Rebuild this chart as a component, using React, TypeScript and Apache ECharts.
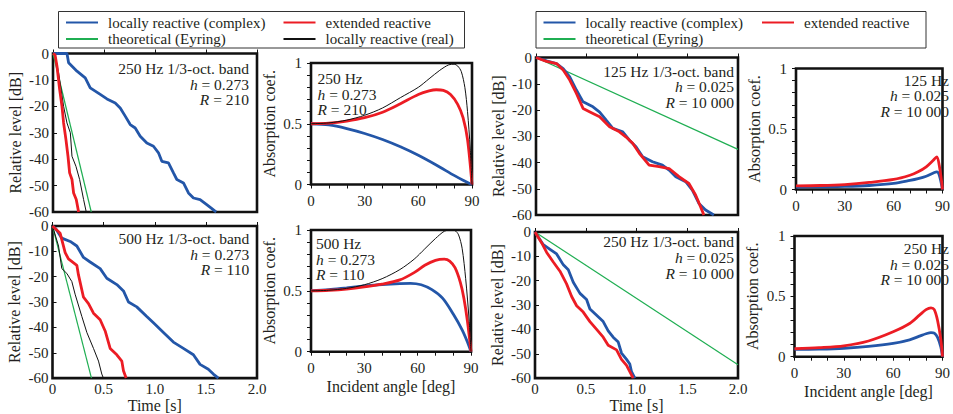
import React, { useEffect, useRef } from "react";
import * as echarts from "echarts";

// ---------------- DATA ----------------
const NAME_COMPLEX = "locally reactive (complex)";
const NAME_EXT = "extended reactive";
const NAME_EYRING = "theoretical (Eyring)";
const NAME_REAL = "locally reactive (real)";

const decayTicks = [0, 0.5, 1.0, 1.5, 2.0];
const levelTicks = [0, -10, -20, -30, -40, -50, -60];
const angleTicks = [0, 30, 60, 90];
const coefTicks = [0, 0.5, 1];

// Decay curves (time [s], level [dB]) — left half, h = 0.273
const decayL250Complex = [[0,0],[0.137,0],[0.153,-3.5],[0.235,-6.7],[0.316,-9.2],[0.365,-13],[0.463,-15.5],[0.529,-17.2],[0.61,-18.7],[0.659,-20.6],[0.708,-23.7],[0.757,-26.9],[0.806,-28.2],[0.855,-31.3],[0.92,-33.9],[0.985,-35.1],[1.034,-37.6],[1.067,-40.8],[1.132,-41.4],[1.181,-45.2],[1.214,-47.7],[1.279,-49],[1.328,-52.8],[1.377,-54.7],[1.442,-55.3],[1.507,-57.2],[1.589,-59.7],[1.6,-60]];
const decayL250Ext = [[0,0],[0.02,-0.5],[0.039,-4.8],[0.065,-13.6],[0.088,-20],[0.104,-26.3],[0.127,-32.6],[0.147,-38.9],[0.163,-45.2],[0.186,-47.7],[0.202,-52.8],[0.228,-55.3],[0.251,-60]];
const decayL250Real = [[0,0],[0.02,-0.5],[0.055,-7.3],[0.104,-20],[0.137,-26.3],[0.17,-30],[0.186,-38.9],[0.225,-42.7],[0.261,-47.7],[0.3,-55.3],[0.326,-60]];
const decayL250Eyring = [[0,0],[0.375,-60]];

const decayL500Complex = [[0,0],[0.03,-1],[0.091,-4.8],[0.173,-6.1],[0.238,-7.9],[0.303,-12.4],[0.368,-14.2],[0.466,-16.8],[0.531,-20.6],[0.629,-23.1],[0.694,-25.6],[0.743,-30],[0.824,-31.9],[0.922,-35.7],[0.987,-38.2],[1.085,-42],[1.182,-45.8],[1.28,-48.3],[1.378,-50.8],[1.443,-54.6],[1.524,-56.5],[1.573,-58.4],[1.622,-60]];
const decayL500Ext = [[0,0],[0.075,-2.9],[0.124,-10.5],[0.156,-13],[0.238,-15.5],[0.254,-19.3],[0.303,-28.1],[0.352,-30.6],[0.401,-34.4],[0.466,-37],[0.515,-41.4],[0.564,-48.3],[0.629,-50.8],[0.678,-53.3],[0.694,-57.1],[0.72,-60]];
const decayL500Real = [[0,0],[0.059,-7.9],[0.091,-16.8],[0.14,-18.7],[0.189,-21.9],[0.221,-26.9],[0.287,-35.7],[0.336,-42],[0.401,-48.3],[0.45,-53.3],[0.482,-58.4],[0.498,-60]];
const decayL500Eyring = [[0,0],[0.381,-60]];

// Decay curves — right half, h = 0.025
const decayR125Complex = [[0,0],[0.105,-1.3],[0.203,-2.3],[0.269,-4.2],[0.334,-7.4],[0.4,-12.4],[0.466,-16.9],[0.564,-18.8],[0.63,-20.8],[0.695,-23.9],[0.761,-27],[0.859,-28.3],[0.925,-31.5],[0.99,-34],[1.056,-37.8],[1.154,-39.7],[1.252,-41],[1.318,-42.9],[1.384,-45.4],[1.482,-47.3],[1.548,-50.5],[1.613,-55.6],[1.679,-58.1],[1.761,-60]];
const decayR125Ext = [[0,0],[0.105,-1.5],[0.203,-2.3],[0.269,-4.8],[0.334,-8.6],[0.4,-13.7],[0.466,-19.4],[0.564,-21.3],[0.63,-22.6],[0.728,-26.4],[0.826,-28.3],[0.892,-30.3],[0.957,-32.7],[1.023,-36.5],[1.12,-41],[1.219,-41.6],[1.318,-42.3],[1.416,-45.4],[1.514,-48],[1.58,-52.4],[1.63,-56.9],[1.662,-60]];
const decayR125Eyring = [[0,0],[2,-35]];

const decayR250Complex = [[0,0],[0.082,-5.2],[0.148,-7.1],[0.213,-9],[0.279,-13.5],[0.328,-15.5],[0.377,-20.6],[0.443,-25.2],[0.508,-27.7],[0.541,-31.6],[0.607,-34.2],[0.672,-36.8],[0.721,-40.6],[0.77,-43.2],[0.82,-45.2],[0.852,-49.7],[0.902,-52.3],[0.934,-54.2],[0.951,-57.4],[0.984,-60]];
const decayR250Ext = [[0,0],[0.066,-4.5],[0.115,-8.4],[0.18,-12.3],[0.246,-16.1],[0.311,-21.3],[0.361,-26.5],[0.41,-30.3],[0.475,-32.9],[0.541,-36.8],[0.607,-40],[0.672,-43.2],[0.721,-46.5],[0.803,-48.4],[0.852,-52.3],[0.902,-54.8],[0.967,-60]];
const decayR250Eyring = [[0,0],[2,-54.5]];

// Absorption coefficient vs incident angle [deg]
const absL250Complex = [[0,0.5],[10,0.49],[20,0.46],[30,0.42],[40,0.37],[50,0.31],[60,0.24],[70,0.16],[80,0.075],[85,0.035],[90,0]];
const absL250Ext = [[0,0.5],[10,0.505],[20,0.522],[30,0.55],[40,0.595],[50,0.665],[60,0.74],[66,0.77],[70,0.78],[74,0.775],[78,0.74],[82,0.66],[85,0.55],[87.5,0.37],[90,0]];
const absL250Real = [[0,0.5],[10,0.507],[20,0.53],[30,0.57],[40,0.63],[50,0.715],[60,0.8],[66,0.87],[72,0.94],[77,0.985],[80,0.99],[82,0.975],[84,0.93],[86,0.8],[87.5,0.6],[89,0.3],[90,0]];

const absL500Complex = [[0,0.5],[10,0.51],[20,0.525],[30,0.54],[40,0.552],[50,0.56],[56,0.562],[62,0.55],[68,0.51],[74,0.44],[80,0.31],[85,0.18],[88,0.08],[90,0]];
const absL500Ext = [[0,0.5],[10,0.505],[20,0.515],[30,0.532],[40,0.555],[50,0.59],[58,0.65],[64,0.71],[70,0.75],[75,0.76],[78,0.745],[81,0.69],[84,0.57],[86,0.44],[88,0.25],[90,0]];
const absL500Real = [[0,0.5],[10,0.505],[20,0.52],[30,0.55],[40,0.6],[50,0.675],[58,0.76],[64,0.845],[70,0.93],[75,0.99],[78,1.0],[81,0.995],[83,0.96],[85,0.85],[87,0.6],[89,0.25],[90,0]];

const absR125Complex = [[0,0.02],[15,0.022],[30,0.025],[45,0.033],[60,0.05],[70,0.075],[75,0.09],[80,0.11],[85,0.14],[86.5,0.145],[88,0.12],[90,0]];
const absR125Ext = [[0,0.03],[15,0.033],[30,0.041],[45,0.058],[60,0.083],[70,0.118],[75,0.146],[80,0.187],[84,0.237],[86.5,0.27],[88,0.2],[90,0]];

const absR250Complex = [[0,0.06],[15,0.063],[30,0.07],[45,0.085],[60,0.11],[70,0.14],[76,0.17],[80,0.19],[83,0.2],[85,0.195],[87,0.16],[89,0.08],[90,0]];
const absR250Ext = [[0,0.066],[15,0.075],[30,0.09],[45,0.13],[60,0.206],[70,0.275],[76,0.344],[80,0.39],[83,0.405],[85,0.39],[87,0.3],[89,0.14],[90,0]];

// Annotation texts
const noteL250 = ["250 Hz 1/3-oct. band", "{i|h} = 0.273", "{i|R} = 210"];
const noteL250abs = ["250 Hz", "{i|h} = 0.273", "{i|R} = 210"];
const noteL500 = ["500 Hz 1/3-oct. band", "{i|h} = 0.273", "{i|R} = 110"];
const noteL500abs = ["500 Hz", "{i|h} = 0.273", "{i|R} = 110"];
const noteR125 = ["125 Hz 1/3-oct. band", "{i|h} = 0.025", "{i|R} = 10 000"];
const noteR125abs = ["125 Hz", "{i|h} = 0.025", "{i|R} = 10 000"];
const noteR250 = ["250 Hz 1/3-oct. band", "{i|h} = 0.025", "{i|R} = 10 000"];
const noteR250abs = ["250 Hz", "{i|h} = 0.025", "{i|R} = 10 000"];

// ---------------- STYLE / LAYOUT ----------------
const FONT = "Liberation Serif";
const FS = 15;
const FS_NAME = 16;
const TXT = "#231f20";
const STYLES: Record<string, { color: string; width: number }> = {
  [NAME_COMPLEX]: { color: "#2356a8", width: 2.8 },
  [NAME_EXT]: { color: "#ec1c24", width: 2.8 },
  [NAME_EYRING]: { color: "#1fae52", width: 1.2 },
  [NAME_REAL]: { color: "#111111", width: 1 },
};

type Panel = {
  kind: "decay" | "abs";
  grid: { left: number; top: number; width: number; height: number };
  xLabels: boolean;
  xName: boolean;
  series: [string, number[][]][];
  note: string[];
  noteX: number;
  noteY: number;
  noteAlign: "left" | "right";
};

const PANELS: Panel[] = [
  { kind: "decay", grid: { left: 53, top: 53.5, width: 204, height: 158.5 }, xLabels: false, xName: false,
    series: [[NAME_EYRING, decayL250Eyring], [NAME_COMPLEX, decayL250Complex], [NAME_REAL, decayL250Real], [NAME_EXT, decayL250Ext]],
    note: noteL250, noteX: 249, noteY: 68.3, noteAlign: "right" },
  { kind: "abs", grid: { left: 311, top: 63, width: 161, height: 121.5 }, xLabels: true, xName: false,
    series: [[NAME_COMPLEX, absL250Complex], [NAME_EXT, absL250Ext], [NAME_REAL, absL250Real]],
    note: noteL250abs, noteX: 317.5, noteY: 78.3, noteAlign: "left" },
  { kind: "decay", grid: { left: 52.5, top: 226, width: 204.5, height: 158.3 }, xLabels: true, xName: true,
    series: [[NAME_EYRING, decayL500Eyring], [NAME_COMPLEX, decayL500Complex], [NAME_REAL, decayL500Real], [NAME_EXT, decayL500Ext]],
    note: noteL500, noteX: 249.3, noteY: 238.3, noteAlign: "right" },
  { kind: "abs", grid: { left: 311, top: 230, width: 160, height: 121.7 }, xLabels: true, xName: true,
    series: [[NAME_COMPLEX, absL500Complex], [NAME_EXT, absL500Ext], [NAME_REAL, absL500Real]],
    note: noteL500abs, noteX: 316, noteY: 243.3, noteAlign: "left" },
  { kind: "decay", grid: { left: 536, top: 57.5, width: 202, height: 157.5 }, xLabels: false, xName: false,
    series: [[NAME_EYRING, decayR125Eyring], [NAME_COMPLEX, decayR125Complex], [NAME_EXT, decayR125Ext]],
    note: noteR125, noteX: 734, noteY: 71, noteAlign: "right" },
  { kind: "abs", grid: { left: 796, top: 68.5, width: 160, height: 121 }, xLabels: true, xName: false,
    series: [[NAME_COMPLEX, absR125Complex], [NAME_EXT, absR125Ext]],
    note: noteR125abs, noteX: 949, noteY: 80, noteAlign: "right" },
  { kind: "decay", grid: { left: 535, top: 232, width: 203, height: 154.7 }, xLabels: true, xName: true,
    series: [[NAME_EYRING, decayR250Eyring], [NAME_COMPLEX, decayR250Complex], [NAME_EXT, decayR250Ext]],
    note: noteR250, noteX: 734, noteY: 241.7, noteAlign: "right" },
  { kind: "abs", grid: { left: 794.5, top: 236, width: 159, height: 120.7 }, xLabels: true, xName: true,
    series: [[NAME_COMPLEX, absR250Complex], [NAME_EXT, absR250Ext]],
    note: noteR250abs, noteX: 949, noteY: 248.3, noteAlign: "right" },
];

function buildOption() {
  const grid = PANELS.map((p) => ({
    ...p.grid,
    show: true,
    borderColor: "#111",
    borderWidth: 2.6,
    backgroundColor: "transparent",
    containLabel: false,
  }));

  const xAxis = PANELS.map((p, i) => {
    const isDecay = p.kind === "decay";
    const ticks = isDecay ? decayTicks : angleTicks;
    return {
      type: "value",
      gridIndex: i,
      min: ticks[0],
      max: ticks[ticks.length - 1],
      interval: ticks[1] - ticks[0],
      axisLine: { show: false },
      splitLine: { show: false },
      axisTick: { show: true, inside: isDecay, length: 4, lineStyle: { color: "#111", width: 1 } },
      minorTick: isDecay
        ? { show: false }
        : { show: true, splitNumber: 3, length: 4, lineStyle: { color: "#111", width: 1 } },
      axisLabel: {
        show: p.xLabels,
        margin: isDecay ? 3 : 9,
        color: TXT,
        fontSize: FS,
        fontFamily: FONT,
        formatter: (v: number) => (isDecay ? (v === 0 ? "0" : v.toFixed(1)) : String(v)),
      },
      name: p.xName ? (isDecay ? "Time [s]" : "Incident angle [deg]") : "",
      nameLocation: "middle",
      nameGap: isDecay ? 17 : 27,
      nameTextStyle: { color: TXT, fontSize: FS_NAME, fontFamily: FONT, verticalAlign: "top" },
    };
  });

  const yAxis = PANELS.map((p, i) => {
    const isDecay = p.kind === "decay";
    const ticks = isDecay ? levelTicks : coefTicks;
    const sorted = [...ticks].sort((a, b) => a - b);
    return {
      type: "value",
      gridIndex: i,
      min: sorted[0],
      max: sorted[sorted.length - 1],
      interval: sorted[1] - sorted[0],
      axisLine: { show: false },
      splitLine: { show: false },
      axisTick: { show: true, inside: isDecay, length: 4, lineStyle: { color: "#111", width: 1 } },
      minorTick: isDecay
        ? { show: false }
        : { show: true, splitNumber: 5, length: 4, lineStyle: { color: "#111", width: 1 } },
      axisLabel: {
        show: true,
        margin: isDecay ? 4 : 9,
        color: TXT,
        fontSize: FS,
        fontFamily: FONT,
        lineHeight: 13,
        formatter: (v: number) => String(v),
      },
      name: isDecay ? "Relative level [dB]" : "Absorption coef.",
      nameLocation: "middle",
      nameGap: isDecay ? 30 : 34,
      nameTextStyle: { color: TXT, fontSize: FS_NAME, fontFamily: FONT },
    };
  });

  const series: any[] = [];
  PANELS.forEach((p, i) => {
    p.series.forEach(([name, data]) => {
      const st = STYLES[name];
      series.push({
        type: "line",
        name,
        xAxisIndex: i,
        yAxisIndex: i,
        data,
        symbol: "none",
        showSymbol: false,
        smooth: p.kind === "abs" ? 0.3 : false,
        clip: true,
        color: st.color,
        lineStyle: { color: st.color, width: st.width },
        emphasis: { disabled: true },
        silent: true,
      });
    });
  });

  const legendCommon = {
    orient: "vertical",
    itemWidth: 32,
    itemHeight: 14,
    itemGap: 1.5,
    padding: 0,
    selectedMode: false,
    itemStyle: { opacity: 0 },
    textStyle: { color: TXT, fontSize: FS, fontFamily: FONT, padding: [0, 0, 0, 5] },
  };
  const legend = [
    { ...legendCommon, left: 65, top: 15, data: [NAME_COMPLEX, NAME_EYRING] },
    { ...legendCommon, left: 282.5, top: 15, data: [NAME_EXT, NAME_REAL] },
    { ...legendCommon, left: 542.5, top: 15, data: [NAME_COMPLEX, NAME_EYRING] },
    { ...legendCommon, left: 761, top: 15, data: [NAME_EXT] },
  ];

  const graphic: any[] = [
    { type: "rect", shape: { x: 58.5, y: 11.5, width: 406, height: 36.5 }, style: { fill: "none", stroke: "#333", lineWidth: 1 }, z: 10 },
    { type: "rect", shape: { x: 536, y: 11.5, width: 390, height: 36.5 }, style: { fill: "none", stroke: "#333", lineWidth: 1 }, z: 10 },
  ];
  PANELS.forEach((p) => {
    p.note.forEach((line, k) => {
      graphic.push({
        type: "text",
        x: p.noteX,
        y: p.noteY + k * 15.8,
        z: 20,
        style: {
          text: line,
          fill: TXT,
          fontSize: FS + 0.5,
          fontFamily: FONT,
          align: p.noteAlign,
          verticalAlign: "middle",
          rich: { i: { fontStyle: "italic", fontSize: FS + 0.5, fontFamily: FONT, fill: TXT } },
        },
      });
    });
  });

  return {
    animation: false,
    backgroundColor: "#ffffff",
    textStyle: { fontFamily: FONT },
    grid,
    xAxis,
    yAxis,
    legend,
    graphic,
    series,
  };
}

const CSS = `.resketch-chart svg text, .resketch-chart svg tspan { font-family: "Liberation Serif", "Times New Roman", serif !important; }`;

export default function App() {
  const ref = useRef<HTMLDivElement | null>(null);
  useEffect(() => {
    if (!ref.current) return;
    const chart = echarts.init(ref.current, undefined, { renderer: "svg" });
    chart.setOption(buildOption() as any);
    return () => chart.dispose();
  }, []);
  return (
    <>
      <style>{CSS}</style>
      <div
        ref={ref}
        className="resketch-chart"
        style={{ position: "absolute", left: 0, top: 0, width: 953, height: 414, background: "#fff" }}
      />
    </>
  );
}
